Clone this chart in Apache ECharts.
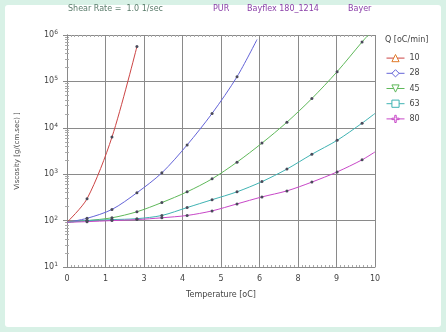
<!DOCTYPE html>
<html>
<head>
<meta charset="utf-8">
<script src="https://cdn.jsdelivr.net/npm/echarts@6/dist/echarts.min.js"></script>
<style>
  html, body { margin: 0; padding: 0; background: #d8f1e6; }
  #chart { width: 446px; height: 332px; }
</style>
</head>
<body>
<div id="chart"></div>
<script>
// sample temperatures where markers sit [oC]
const temps = [0.65, 1.46, 2.27, 3.08, 3.90, 4.71, 5.52, 6.33, 7.14, 7.95, 8.77, 9.58];

// viscosity per heating rate Q, null = no marker there
const q10 = [295, 6300, 562000, null, null, null, null, null, null, null, null, null];
const q28 = [112, 174, 398, 1070, 4270, 20400, 126000, null, null, null, null, null];
const q45 = [100, 115, 155, 245, 417, 794, 1820, 4680, 13200, 42700, 162000, 708000];
const q63 = [100, 105, 110, 129, 191, 282, 417, 692, 1290, 2690, 5370, 12600];
const q80 = [95, 100, 105, 115, 129, 162, 229, 324, 437, 676, 1120, 2040];

const startVisc = 92;
// curve ends (no marker)
const ends = {
  '10': null,
  '28': [6.17, 800000],
  '45': [9.78, 1000000],
  '63': [10, 20400],
  '80': [10, 3020]
};

const qNames = ['10', '28', '45', '63', '80'];
const qValues = [q10, q28, q45, q63, q80];
const lineColors = ['#cc4444', '#6464d8', '#5fb85a', '#3fb3b3', '#c848c8'];
const legendColors = ['#e07a2a', '#6464d8', '#5fb85a', '#3fb3b3', '#c848c8'];
const legendIcons = [
  'triangle',
  'diamond',
  'path://M0,0 L10,0 L5,10 Z',
  'rect',
  'path://M4,0 H6 V4 H10 V6 H6 V10 H4 V6 H0 V4 H4 Z'
];
const markerColor = '#4a4a5a';

const series = qNames.map((name, k) => {
  const data = [{ value: [0, startVisc], symbol: 'none' }];
  temps.forEach((t, i) => {
    if (qValues[k][i] != null) {
      data.push({ value: [t, qValues[k][i]], symbol: 'circle', symbolSize: 3, itemStyle: { color: markerColor } });
    }
  });
  if (ends[name]) data.push({ value: ends[name], symbol: 'none' });
  return {
    name: name,
    type: 'line',
    smooth: 0.3,
    data: data,
    symbol: legendIcons[k],
    symbolSize: 3,
    itemStyle: { color: legendColors[k] },
    lineStyle: { color: lineColors[k], width: 1 },
    emphasis: { disabled: true },
    z: 3
  };
});

const font = 'DejaVu Sans';
const gridColor = '#8a8a8a';

const chart = echarts.init(document.getElementById('chart'));
chart.setOption({
  backgroundColor: '#d8f1e6',
  animation: false,
  textStyle: { fontFamily: font },
  graphic: [
    { type: 'rect', shape: { x: 5, y: 5, width: 436, height: 322, r: 3 }, style: { fill: '#fff' }, z: -10 },
    { type: 'text', left: 68, top: 5, style: { text: 'Shear Rate =  1.0 1/sec', fill: '#5b7d6c', font: '8px DejaVu Sans' } },
    { type: 'text', left: 213, top: 5, style: { text: 'PUR', fill: '#8a3fa8', font: '8px DejaVu Sans' } },
    { type: 'text', left: 247, top: 5, style: { text: 'Bayflex 180_1214', fill: '#8a3fa8', font: '8px DejaVu Sans' } },
    { type: 'text', left: 348, top: 5, style: { text: 'Bayer', fill: '#8a3fa8', font: '8px DejaVu Sans' } },
    { type: 'text', left: 385, top: 36, style: { text: 'Q [oC/min]', fill: '#444', font: '8px DejaVu Sans' } }
  ],
  legend: {
    orient: 'vertical',
    left: 381,
    top: 49,
    itemWidth: 18,
    itemHeight: 9,
    itemGap: 7,
    textStyle: { fontSize: 8, color: '#444', fontFamily: font },
    data: qNames.map((n, k) => ({
      name: n,
      itemStyle: { color: '#fff', borderColor: legendColors[k], borderWidth: 1 },
      lineStyle: { color: lineColors[k], width: 1 }
    }))
  },
  grid: { left: 67, right: 71, top: 35, bottom: 65 },
  xAxis: [
    {
      type: 'value',
      min: 0,
      max: 10,
      interval: 1.25,
      name: 'Temperature [oC]',
      nameLocation: 'middle',
      nameGap: 24,
      nameTextStyle: { fontSize: 8, color: '#444' },
      axisLine: { lineStyle: { color: gridColor } },
      axisTick: { inside: true, length: 4, lineStyle: { color: gridColor } },
      minorTick: { show: true, splitNumber: 10, length: 2, lineStyle: { color: '#aaa' } },
      axisLabel: { fontSize: 8, color: '#444', margin: 8, formatter: v => String(Math.round(v)) },
      splitLine: { show: true, lineStyle: { color: gridColor, width: 1 } }
    },
    {
      type: 'value',
      position: 'top',
      min: 0,
      max: 10,
      interval: 1.25,
      axisLine: { lineStyle: { color: gridColor } },
      axisTick: { inside: true, length: 4, lineStyle: { color: gridColor } },
      minorTick: { show: true, splitNumber: 10, length: 2, lineStyle: { color: '#aaa' } },
      axisLabel: { show: false },
      splitLine: { show: false }
    }
  ],
  yAxis: [
    {
      type: 'log',
      logBase: 10,
      min: 10,
      max: 1000000,
      name: 'Viscosity [g/(cm.sec) ]',
      nameLocation: 'middle',
      nameRotate: 90,
      nameGap: 46,
      nameTextStyle: { fontSize: 7, color: '#444' },
      axisLine: { show: true, lineStyle: { color: gridColor } },
      axisTick: { inside: true, length: 4, lineStyle: { color: gridColor } },
      minorTick: { show: true, splitNumber: 9, length: 2, lineStyle: { color: '#aaa' } },
      axisLabel: {
        margin: 9,
        formatter: v => '{b|10}{s|' + Math.round(Math.log10(v)) + '}',
        rich: {
          b: { fontSize: 8, color: '#444', fontFamily: font },
          s: { fontSize: 6, color: '#444', fontFamily: font, verticalAlign: 'top', padding: [0, 0, 5, 0] }
        }
      },
      splitLine: { show: true, lineStyle: { color: gridColor, width: 1 } }
    },
    {
      type: 'log',
      logBase: 10,
      min: 10,
      max: 1000000,
      position: 'right',
      axisLine: { show: true, lineStyle: { color: gridColor } },
      axisTick: { inside: true, length: 4, lineStyle: { color: gridColor } },
      minorTick: { show: true, splitNumber: 9, length: 2, lineStyle: { color: '#aaa' } },
      axisLabel: { show: false },
      splitLine: { show: false }
    }
  ],
  series: series
});
</script>
</body>
</html>
